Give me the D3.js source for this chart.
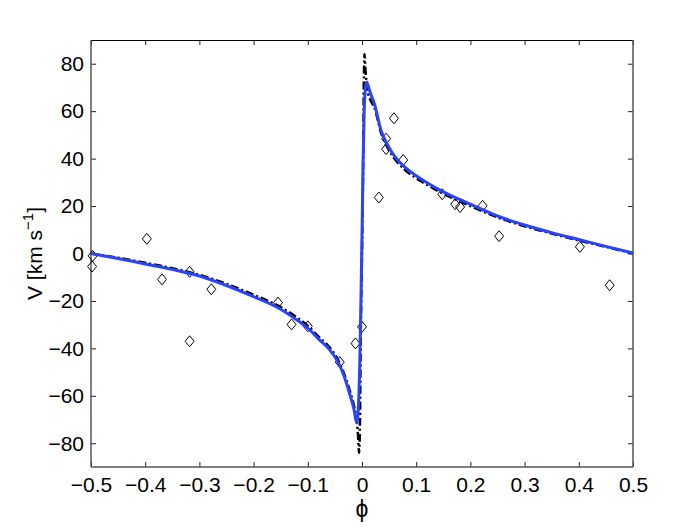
<!DOCTYPE html>
<html><head><meta charset="utf-8">
<script src="https://cdn.jsdelivr.net/npm/d3@7"></script>
<style>html,body{margin:0;padding:0;background:#fff;} svg{display:block;}</style>
</head><body>
<svg id="chart" width="700" height="527"></svg>
<script>
// Observed data (diamonds)
const obsPhi = [-0.497,-0.498,-0.397,-0.369,-0.318,-0.318,-0.278,-0.155,-0.130,-0.100,-0.041,-0.012,0.000,0.031,0.0445,0.0445,0.059,0.076,0.148,0.172,0.181,0.2225,0.253,0.402,0.457];
const obsV   = [-1.0,-5.5,6.2,-10.9,-7.7,-37.0,-15.1,-20.7,-29.9,-30.7,-45.8,-37.9,-30.9,23.6,48.4,44.0,57.0,39.4,25.0,20.8,19.6,20.1,7.3,2.8,-13.4];

// Model 1 (blue solid)
const bluePhi = [-0.5,-0.45,-0.4,-0.35,-0.3,-0.25,-0.2,-0.15,-0.12,-0.1,-0.078,-0.06,-0.0475,-0.035,-0.023,-0.015,-0.0096,-0.0075,-0.004,-0.002,0,0.002,0.004,0.006,0.0075,0.0088,0.011,0.015,0.023,0.035,0.0475,0.06,0.078,0.1,0.12,0.15,0.18,0.2,0.25,0.3,0.35,0.4,0.45,0.5];
const blueV   = [0,-2.1,-4.4,-6.7,-9.5,-13.5,-18.2,-23.5,-28,-31.5,-36.5,-40.5,-44.5,-50.5,-59,-65.5,-71.5,-68,-45,-20,8,38,60,69,71.6,72.3,71,68,63,52,45.7,41,36.6,32.8,29.8,26,22.8,20.8,15.8,12,8.8,5.9,3.0,0.2];

// Model 2 (black dash-dot)
const blackPhi = [-0.5,-0.45,-0.4,-0.35,-0.3,-0.25,-0.2,-0.15,-0.12,-0.1,-0.078,-0.06,-0.0475,-0.035,-0.023,-0.015,-0.01,-0.0075,-0.0055,-0.004,-0.002,0,0.002,0.0035,0.0046,0.0065,0.01,0.015,0.023,0.035,0.0475,0.078,0.1,0.12,0.15,0.18,0.2,0.25,0.3,0.35,0.4,0.45,0.5];
const blackV   = [0,-1.8,-3.9,-6.2,-9,-12.8,-17.4,-22.6,-27,-30.5,-35.5,-39.5,-43.5,-49.5,-57.5,-64,-70,-76,-84,-75,-30,0,35,75,84,77,69,65,61.5,51,44.5,35.5,31.8,29,25.2,22,20,15.2,11.5,8.4,5.5,2.8,0];

const xTicks = [-0.5,-0.4,-0.3,-0.2,-0.1,0,0.1,0.2,0.3,0.4,0.5];
const yTicks = [-80,-60,-40,-20,0,20,40,60,80];

const svg = d3.select('#chart');
const L=91, R=633, T=40, B=467;
const x = d3.scaleLinear().domain([-0.5,0.5]).range([L,R]);
const y = d3.scaleLinear().domain([-90,90]).range([B,T]);
const font = "'Liberation Sans', Arial, Helvetica, sans-serif";
const fmt = v => { const s = (Math.abs(v) < 1e-9) ? '0' : String(+v.toFixed(1)); return s.replace('-', '\u2212'); };

// axes with inward ticks
const gx = svg.append('g').attr('transform',`translate(0,${B})`)
  .call(d3.axisBottom(x).tickValues(xTicks).tickSizeInner(-5).tickSizeOuter(0).tickPadding(10).tickFormat(fmt));
const gxt = svg.append('g').attr('transform',`translate(0,${T})`)
  .call(d3.axisTop(x).tickValues(xTicks).tickSizeInner(-5).tickSizeOuter(0).tickFormat(''));
const gy = svg.append('g').attr('transform',`translate(${L},0)`)
  .call(d3.axisLeft(y).tickValues(yTicks).tickSizeInner(-5).tickSizeOuter(0).tickPadding(7).tickFormat(fmt));
const gyr = svg.append('g').attr('transform',`translate(${R},0)`)
  .call(d3.axisRight(y).tickValues(yTicks).tickSizeInner(-5).tickSizeOuter(0).tickFormat(''));
[gx,gxt,gy,gyr].forEach(g=>{
  g.select('.domain').remove();
  g.selectAll('.tick line').attr('stroke','#222').attr('stroke-width',1);
  g.selectAll('text').attr('font-family',font).attr('font-size',21).attr('fill','#000');
});

// frame
svg.append('line').attr('x1',L).attr('x2',R).attr('y1',T+0.5).attr('y2',T+0.5).attr('stroke','#000').attr('stroke-width',1);
svg.append('line').attr('x1',L).attr('x2',R).attr('y1',B).attr('y2',B).attr('stroke','#555').attr('stroke-width',1.5);
svg.append('line').attr('x1',L).attr('x2',L).attr('y1',T).attr('y2',B).attr('stroke','#555').attr('stroke-width',1.5);
svg.append('line').attr('x1',R).attr('x2',R).attr('y1',T).attr('y2',B).attr('stroke','#555').attr('stroke-width',1.5);

// diamonds
const obs = obsPhi.map((p,i)=>({p, v: obsV[i]}));
svg.append('g').selectAll('path').data(obs).join('path')
  .attr('d', d => { const cx=x(d.p), cy=y(d.v); return `M${cx},${cy-5.5}L${cx+4.5},${cy}L${cx},${cy+5.5}L${cx-4.5},${cy}Z`; })
  .attr('fill','none').attr('stroke','#000').attr('stroke-width',1);

const line = d3.line().x(d=>x(d[0])).y(d=>y(d[1])).curve(d3.curveMonotoneX);
svg.append('path').attr('d', line(blackPhi.map((p,i)=>[p,blackV[i]])))
  .attr('fill','none').attr('stroke','#000').attr('stroke-width',2.5).attr('stroke-dasharray','8,3,2,3');
svg.append('path').attr('d', line(bluePhi.map((p,i)=>[p,blueV[i]])))
  .attr('fill','none').attr('stroke','#2a44fa').attr('stroke-width',3).attr('stroke-linejoin','round');

// axis titles
svg.append('text').attr('x',(L+R)/2).attr('y',517).attr('text-anchor','middle')
  .attr('font-family',font).attr('font-size',23).text('\u03D5');
const yl = svg.append('text').attr('transform',`translate(42,${(T+B)/2}) rotate(-90)`).attr('text-anchor','middle')
  .attr('font-family',font).attr('font-size',21);
yl.append('tspan').text('V [km s');
yl.append('tspan').attr('font-size',15).attr('dy',-9).text('\u22121');
yl.append('tspan').attr('dy',9).text(']');
</script>
</body></html>
